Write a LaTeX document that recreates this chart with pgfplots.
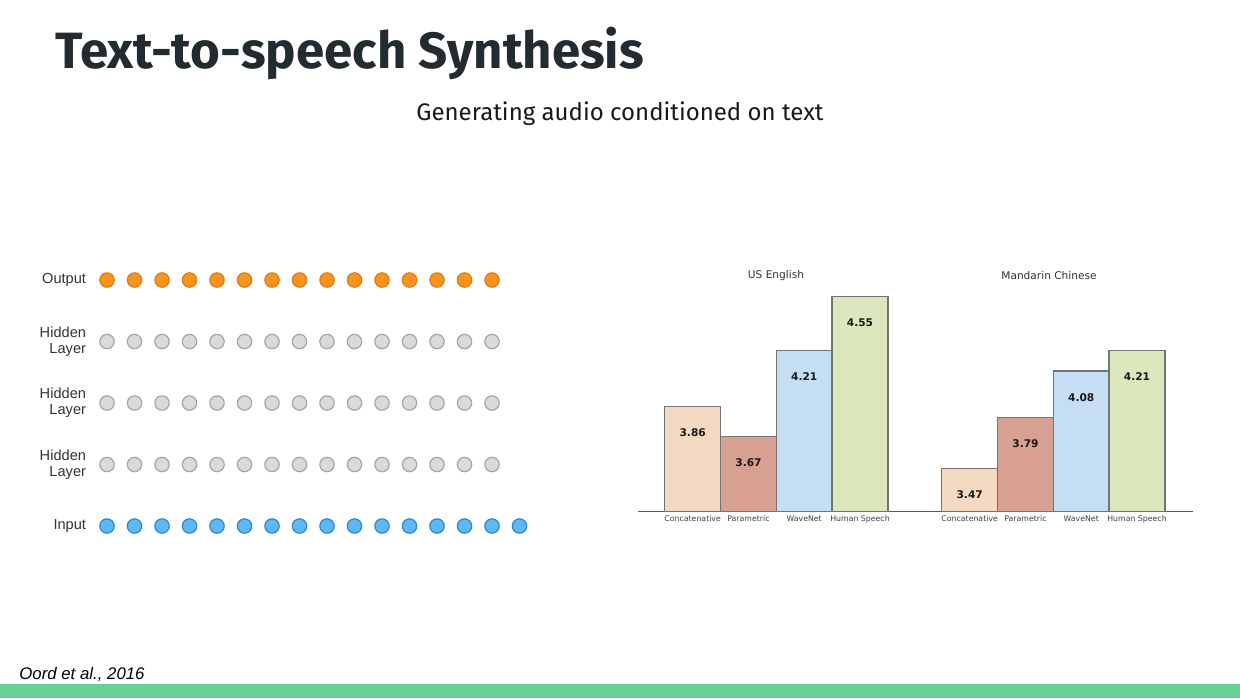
\documentclass[border=0pt]{standalone}
\usepackage{pgfplots}
\pgfplotsset{compat=1.18}
\usepackage{fontspec}
\setmainfont{Liberation Sans}
\newfontfamily\titlefont{Fira Sans}
\newfontfamily\chartfont{DejaVu Sans}

\definecolor{titlegray}{HTML}{212B30}
\definecolor{slidegreen}{HTML}{65D198}
\definecolor{outfill}{HTML}{F7941D}
\definecolor{outedge}{HTML}{E07B12}
\definecolor{hidfill}{HTML}{DADADA}
\definecolor{hidedge}{HTML}{A5A5A5}
\definecolor{infill}{HTML}{5DB8F5}
\definecolor{inedge}{HTML}{2F86C8}
\definecolor{cConcat}{HTML}{F4D9C2}
\definecolor{cParam}{HTML}{D7A090}
\definecolor{cWave}{HTML}{C6DEF4}
\definecolor{cHuman}{HTML}{DDE7BD}
\definecolor{baredge}{HTML}{747474}

\pgfplotsset{
  mosbar/.style={
    scale only axis, width=138.9pt, height=123.6pt,
    xmin=-0.98, xmax=4.0, ymin=3.2, ymax=4.75,
    axis x line=bottom, axis y line=none,
    axis line style={-, draw=gray!70!black, line width=0.6pt},
    xtick={0,1,2,3},
    xticklabels={Concatenative, Parametric, WaveNet, Human Speech},
    xticklabel style={font=\chartfont\fontsize{3.9}{4.5}\selectfont, text=black!75, yshift=1.3pt},
    major tick length=1.5pt, tick align=inside,
    tick style={draw=gray!40},
    nodes near coords={\pgfmathprintnumber[fixed,fixed zerofill,precision=2,assume math mode=true]{\pgfplotspointmeta}},
    every node near coord/.append style={anchor=center, yshift=-13pt,
      font=\chartfont\bfseries\fontsize{5.3}{6}\selectfont, text=black!90},
  },
  onebar/.style={ybar, bar width=1, bar shift=0pt, draw=baredge, line width=0.7pt, fill=#1},
}

\begin{document}
\begin{tikzpicture}
\fill[white] (0pt,0pt) rectangle (620pt,-349pt);
\fill[slidegreen] (0pt,-342pt) rectangle (620pt,-349pt);

\node[anchor=base west, inner sep=0pt, text=titlegray,
      font=\titlefont\bfseries\fontsize{25.5}{30}\selectfont] at (27.5pt,-34pt) {Text-to-speech Synthesis};
\node[anchor=base, inner sep=0pt, text=black!90,
      font=\titlefont\fontsize{12}{14}\selectfont] at (310pt,-60pt) {Generating audio conditioned on text};
\node[anchor=base west, inner sep=0pt, text=black,
      font=\itshape\fontsize{8.4}{10}\selectfont] at (9.5pt,-339.5pt) {Oord et al., 2016};

% network diagram
\begin{axis}[
  at={(43.2pt,-278.375pt)}, anchor=south west,
  scale only axis, width=223.4375pt, height=153.75pt,
  xmin=0.25, xmax=16.5, ymin=-0.5, ymax=4.5,
  clip=false,
  axis line style={draw=none},
  xtick=\empty,
  ytick={0,1,2,3,4},
  yticklabels={Input, Hidden\\Layer, Hidden\\Layer, Hidden\\Layer, Output},
  yticklabel style={align=right, anchor=east, inner sep=0pt, text=black!80,
    font=\fontsize{7.3}{8.2}\selectfont},
  major tick length=0pt,
]
\addplot[only marks, mark=*, mark size=3.6pt, mark options={fill=outfill, draw=outedge, line width=0.6pt}]
  coordinates {(1,4)(2,4)(3,4)(4,4)(5,4)(6,4)(7,4)(8,4)(9,4)(10,4)(11,4)(12,4)(13,4)(14,4)(15,4)};
\addplot[only marks, mark=*, mark size=3.6pt, mark options={fill=hidfill, draw=hidedge, line width=0.6pt}]
  coordinates {(1,3)(2,3)(3,3)(4,3)(5,3)(6,3)(7,3)(8,3)(9,3)(10,3)(11,3)(12,3)(13,3)(14,3)(15,3)};
\addplot[only marks, mark=*, mark size=3.6pt, mark options={fill=hidfill, draw=hidedge, line width=0.6pt}]
  coordinates {(1,2)(2,2)(3,2)(4,2)(5,2)(6,2)(7,2)(8,2)(9,2)(10,2)(11,2)(12,2)(13,2)(14,2)(15,2)};
\addplot[only marks, mark=*, mark size=3.6pt, mark options={fill=hidfill, draw=hidedge, line width=0.6pt}]
  coordinates {(1,1)(2,1)(3,1)(4,1)(5,1)(6,1)(7,1)(8,1)(9,1)(10,1)(11,1)(12,1)(13,1)(14,1)(15,1)};
\addplot[only marks, mark=*, mark size=3.6pt, mark options={fill=infill, draw=inedge, line width=0.6pt}]
  coordinates {(1,0)(2,0)(3,0)(4,0)(5,0)(6,0)(7,0)(8,0)(9,0)(10,0)(11,0)(12,0)(13,0)(14,0)(15,0)(16,0)};
\end{axis}

% US English
\begin{axis}[mosbar, at={(319pt,-255.75pt)}, anchor=south west]
\addplot[onebar=cConcat] coordinates {(0,3.86)};
\addplot[onebar=cParam]  coordinates {(1,3.67)};
\addplot[onebar=cWave]   coordinates {(2,4.21)};
\addplot[onebar=cHuman]  coordinates {(3,4.55)};
\end{axis}
\node[font=\chartfont\fontsize{5.3}{6}\selectfont, text=black!80] at (388pt,-138pt) {US English};

% Mandarin Chinese
\begin{axis}[mosbar, at={(457.5pt,-255.75pt)}, anchor=south west]
\addplot[onebar=cConcat] coordinates {(0,3.47)};
\addplot[onebar=cParam]  coordinates {(1,3.79)};
\addplot[onebar=cWave]   coordinates {(2,4.08)};
\addplot[onebar=cHuman]  coordinates {(3,4.21)};
\end{axis}
\node[font=\chartfont\fontsize{5.3}{6}\selectfont, text=black!80] at (524.5pt,-138pt) {Mandarin Chinese};
\end{tikzpicture}
\end{document}
